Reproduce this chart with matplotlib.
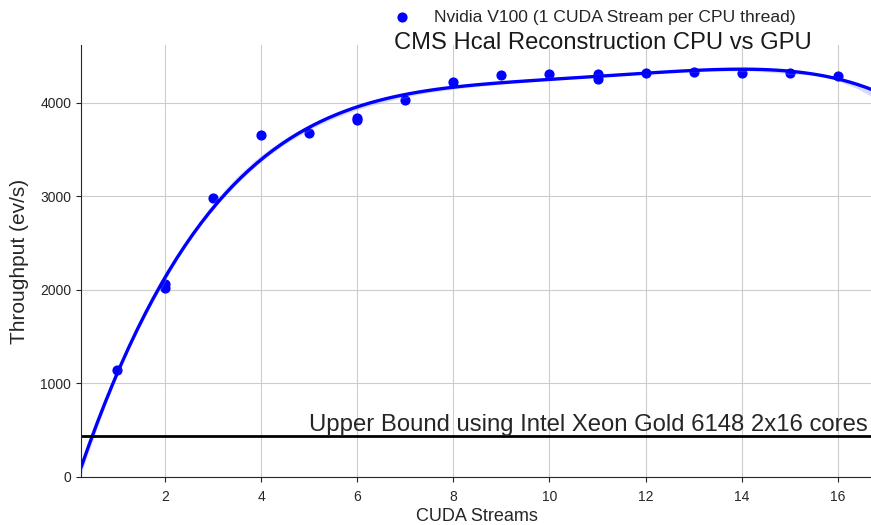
import numpy as np
import pandas as pd
import matplotlib
matplotlib.use("Agg")
import matplotlib.pyplot as plt
import seaborn as sns

# ========== Data ==========
streams = [1, 2, 2, 3, 4, 5, 6, 6, 7, 8, 9, 10, 11, 11, 12, 13, 14, 15, 16]
throughput = [1140, 2060, 2020, 2985, 3660, 3680, 3840, 3820, 4030, 4225,
              4300, 4310, 4310, 4260, 4320, 4330, 4320, 4320, 4290]
cpu_upper_bound = 440

df = pd.DataFrame({"CUDA Streams": streams, "Throughput (ev/s)": throughput})

# ========== Style ==========
sns.set_style("ticks", {"axes.grid": True, "grid.color": ".8"})
plt.rcParams["font.family"] = ["Liberation Sans", "DejaVu Sans"]

fig = plt.figure(figsize=(8.71, 5.25), dpi=100)
ax = fig.add_axes([80.9 / 871, 48 / 525, 793 / 871, 432 / 525])

# polynomial fit, narrow band like the original
sns.regplot(data=df, x="CUDA Streams", y="Throughput (ev/s)", ax=ax,
            order=4, truncate=False, color="blue", ci=30, seed=3,
            label="Nvidia V100 (1 CUDA Stream per CPU thread)",
            scatter_kws={"s": 40, "alpha": 1},
            line_kws={"lw": 2.4})

ax.axhline(cpu_upper_bound, color="black", lw=2)
ax.text(5, cpu_upper_bound, "Upper Bound using Intel Xeon Gold 6148 2x16 cores",
        fontsize=17.2, va="bottom", ha="left", color=".15")

ax.set_ylim(0, 4620)
ax.set_xticks([2, 4, 6, 8, 10, 12, 14, 16])
ax.set_yticks([0, 1000, 2000, 3000, 4000])
ax.tick_params(labelsize=10, colors=".15")
ax.tick_params(axis="x", pad=6)
ax.set_xlabel("CUDA Streams", fontsize=13, labelpad=3)
ax.set_ylabel("Throughput (ev/s)", fontsize=15, labelpad=8)
sns.despine(ax=ax)

fig.text(603 / 871, 1 - 43 / 525, "CMS Hcal Reconstruction CPU vs GPU",
         fontsize=17.1, ha="center", va="center", color=".1")

ax.legend(loc="center", bbox_to_anchor=(590 / 871, 1 - 17 / 525),
          bbox_transform=fig.transFigure, frameon=False, fontsize=12.6,
          handletextpad=0.8)

fig.savefig("out.png", dpi=100)
